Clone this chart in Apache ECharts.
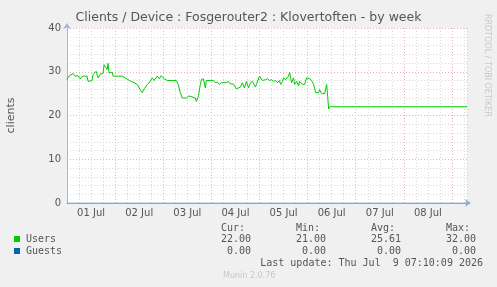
<!DOCTYPE html>
<html>
<head>
<meta charset="utf-8">
<script src="https://cdn.jsdelivr.net/npm/echarts@6/dist/echarts.min.js"></script>
<style>
  html, body { margin: 0; padding: 0; background: #f0f0f0; }
  #chart { width: 497px; height: 287px; }
</style>
</head>
<body>
<div id="chart"></div>
<script>
// hours since 01 Jul 00:00
const hours = [0, 1, 3, 4, 5.5, 6.5, 8, 10, 10.5, 12.5, 13, 14.5, 15.5, 16.5, 18, 18.5, 20, 20.5, 21, 22.5, 23,
  25, 25.5, 27.5, 29, 30.5, 32, 33.5, 35, 36.5, 37.5, 38.5, 40, 41, 42.5, 43.5, 45, 46, 47, 48.5, 50, 52, 54.5,
  55.5, 56.5, 57.5, 59.5, 60.5, 61.5, 62, 64, 64.5, 65.5, 66.5, 67, 68, 69, 69.5, 71.5, 73, 74, 75, 76, 77, 79.5,
  80.5, 81.5, 83, 84.5, 85.5, 86.5, 87.5, 88.5, 89.5, 90.5, 91.5, 92.5, 94, 94.5, 96, 96.5, 97.5, 99, 100, 101,
  102, 103, 104, 105, 106, 106.5, 107.5, 108, 109, 110.5, 111, 112, 113, 113.5, 114.5, 115.5, 116, 117.5, 118.5,
  119.5, 121, 122, 123, 124, 125.5, 126, 127, 128.5, 129.5, 130, 130.5, 131, 149, 149.5, 150, 171.5, 172, 172.5, 199.5]
const users = [28.2, 29, 29.6, 29, 29.1, 28.4, 29, 29, 27.8, 28, 29.4, 30.1, 28.6, 29.4, 29.7, 31.6, 30.5, 31.9, 29.7, 29.9, 29,
  29, 28.9, 29, 28.6, 28.2, 27.8, 27.5, 27.1, 25.9, 25.2, 26.1, 27.1, 27.5, 28.6, 28, 29, 28.4, 29.1, 28.4, 28, 28, 28,
  27.1, 25.2, 24, 24, 24.4, 24.4, 24, 24, 23.2, 24.4, 27.1, 28.2, 28.4, 26.3, 28, 28, 28, 27.5, 27.6, 27.1, 27.5, 27.5,
  27.8, 27.2, 27.2, 26.1, 26.3, 26.5, 27.5, 26.3, 27.8, 26.3, 27.5, 27.8, 26.5, 27.1, 29, 28.8, 28, 28.2, 28.4, 28,
  28.2, 27.8, 28, 27.5, 28, 27.1, 27.8, 28.6, 28.2, 29, 29.9, 27.5, 28.6, 27.1, 27.8, 26.8, 27.8, 27.1, 27.1,
  28.6, 28.4, 28, 27.1, 25.3, 25.2, 25.9, 25, 25, 27.1, 24.4, 21.5, 22, 22, 22.3, 22, 22, 22.3, 22, 22]
const guests = hours.map(() => 0)
const dayLabels = ['01 Jul', '02 Jul', '03 Jul', '04 Jul', '05 Jul', '06 Jul', '07 Jul', '08 Jul']
const yLabels = [0, 10, 20, 30, 40]
const statHeads = ['Cur:', 'Min:', 'Avg:', 'Max:']
const usersStats = ['22.00', '21.00', '25.61', '32.00']
const guestsStats = ['0.00', '0.00', '0.00', '0.00']

const RED = '#e8b0b0'
const GRAY = '#d8d8d8'
const mono = '10px "DejaVu Sans Mono"'
const statRight = [251, 326, 401, 476]

const chart = echarts.init(document.getElementById('chart'))

const graphic = [
  { type: 'text', left: 'center', top: 11, style: { text: 'Clients / Device : Fosgerouter2 : Klovertoften - by week', font: '12.5px "DejaVu Sans"', fill: '#555' } },
  { type: 'text', x: 491, y: 14, rotation: -Math.PI / 2, style: { text: 'RRDTOOL / TOBI OETIKER', font: '8px "DejaVu Sans"', fill: '#c8c8c8' } },
  { type: 'rect', shape: { x: 14, y: 236, width: 6, height: 6 }, style: { fill: '#00CC00' } },
  { type: 'rect', shape: { x: 14, y: 248, width: 6, height: 6 }, style: { fill: '#0066B3' } },
  { type: 'text', x: 26, y: 234, style: { text: 'Users', font: mono, fill: '#555' } },
  { type: 'text', x: 26, y: 246, style: { text: 'Guests', font: mono, fill: '#555' } },
  { type: 'text', x: 483, y: 258, style: { text: 'Last update: Thu Jul  9 07:10:09 2026', font: mono, fill: '#555', align: 'right' } },
  { type: 'text', x: 223, y: 272, style: { text: 'Munin 2.0.76', font: '8px "DejaVu Sans"', fill: '#c8c8c8' } }
]
statHeads.forEach((h, i) => {
  graphic.push({ type: 'text', x: statRight[i] - 6, y: 223, style: { text: h, font: mono, fill: '#555', align: 'right' } })
  graphic.push({ type: 'text', x: statRight[i], y: 234, style: { text: usersStats[i], font: mono, fill: '#555', align: 'right' } })
  graphic.push({ type: 'text', x: statRight[i], y: 246, style: { text: guestsStats[i], font: mono, fill: '#555', align: 'right' } })
})

const option = {
  backgroundColor: '#f0f0f0',
  animation: false,
  grid: { left: 67, right: 30, top: 28, bottom: 84, show: true, backgroundColor: '#fff', borderWidth: 0, outerBoundsMode: 'none', containLabel: false },
  xAxis: {
    type: 'value',
    min: 0,
    max: 199.5,
    interval: 6,
    axisLine: { lineStyle: { color: '#9aa8e0' }, symbol: ['none', 'arrow'], symbolSize: [6, 6], symbolOffset: [0, 4] },
    axisTick: { show: false },
    axisLabel: {
      showMaxLabel: false,
      color: '#555',
      fontFamily: 'DejaVu Sans',
      fontSize: 10,
      margin: 5,
      formatter: (v) => (v % 24 === 12 ? dayLabels[(v - 12) / 24] || '' : '')
    },
    splitLine: { show: true, lineStyle: { color: [RED, GRAY, GRAY, GRAY], type: [1, 2] } }
  },
  yAxis: {
    type: 'value',
    min: 0,
    max: 40,
    interval: 2,
    name: 'clients',
    nameLocation: 'middle',
    nameGap: 50,
    nameTextStyle: { color: '#555', fontFamily: 'DejaVu Sans', fontSize: 11 },
    axisLine: { show: true, lineStyle: { color: '#aab0e8' }, symbol: ['none', 'arrow'], symbolSize: [6, 6], symbolOffset: [0, 5] },
    axisTick: { show: false },
    axisLabel: {
      color: '#555',
      fontFamily: 'DejaVu Sans',
      fontSize: 10,
      margin: 6,
      formatter: (v) => (yLabels.includes(v) ? String(v) : '')
    },
    splitLine: { show: true, lineStyle: { color: [RED, GRAY, GRAY, GRAY, GRAY], type: [1, 2] } }
  },
  graphic: graphic,
  series: [
    {
      name: 'Guests',
      type: 'line',
      data: hours.map((h, i) => [h, guests[i]]),
      showSymbol: false,
      lineStyle: { color: '#0066B3', width: 1, opacity: 0.35 },
      z: 1
    },
    {
      name: 'Users',
      type: 'line',
      data: hours.map((h, i) => [h, users[i]]),
      showSymbol: false,
      lineStyle: { color: '#00CC00', width: 1 },
      z: 3
    }
  ]
}
chart.setOption(option)
</script>
</body>
</html>
